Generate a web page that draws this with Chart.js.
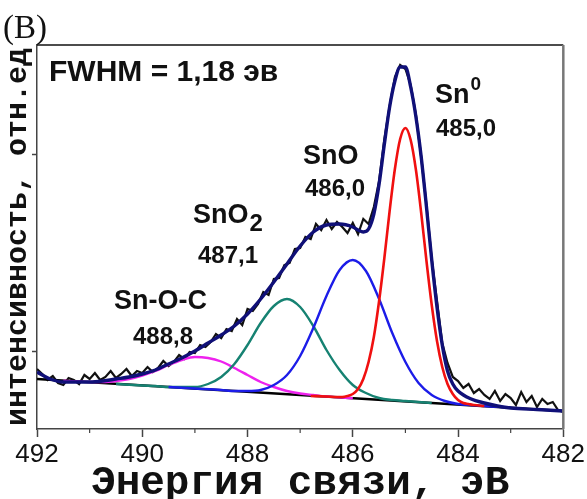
<!DOCTYPE html>
<html>
<head>
<meta charset="utf-8">
<script src="https://cdn.jsdelivr.net/npm/chart.js@4/dist/chart.umd.min.js"></script>
<style>
  html, body { margin: 0; padding: 0; background: #fff; }
  canvas { display: block; }
</style>
</head>
<body>
<canvas id="xps" width="587" height="499"></canvas>
<script>
// Sn 3d5/2 XPS spectrum (binding energy, eV / intensity, arb. units)

// x axis tick labels and y tick positions (y axis has no labels)
const xTickLabels = [492, 490, 488, 486, 484, 482];
const yTickValues = [78, 275];

// linear background
const bgE = [492, 482];
const bgI = [50, 18];

// Sn0 (485,0 eV) - red
const sn0E = [486.8, 486.5, 486.3, 486.2, 486.1, 486.0, 485.9, 485.8, 485.7, 485.6, 485.5, 485.4, 485.3, 485.2, 485.1,
  485.0, 484.9, 484.8, 484.7, 484.6, 484.5, 484.4, 484.3, 484.2, 484.1, 484.0, 483.9, 483.8, 483.7, 483.5];
const sn0I = [33, 32.5, 32, 32, 33, 35, 40, 50, 67, 92, 128, 171, 218, 260, 290,
  301, 289, 259, 216, 168, 124, 88, 62, 45, 35, 29, 26, 25, 24, 23];

// SnO (486,0 eV) - blue
const snoE = [489.5, 489.0, 488.5, 488.25, 488.0, 487.75, 487.5, 487.25, 487.0, 486.75, 486.5, 486.25, 486.0,
  485.75, 485.5, 485.25, 485.0, 484.75, 484.5, 484.25, 484.0, 483.75, 483.5, 483.0];
const snoI = [42, 40.5, 39, 38, 38, 39, 44, 54, 73, 101, 133, 159, 169,
  158, 130, 96, 67, 46, 34, 28, 25, 24, 23, 21.6];

// SnO2 (487,1 eV) - teal
const sno2E = [490.5, 490.0, 489.75, 489.5, 489.25, 489.0, 488.75, 488.5, 488.25, 488.0, 487.75, 487.5, 487.25,
  487.0, 486.75, 486.5, 486.25, 486.0, 485.75, 485.5, 485.25, 485.0, 484.75, 484.5];
const sno2I = [45, 43.5, 43, 42, 42, 42, 45, 52, 65, 84, 106, 123, 130,
  122, 103, 79, 59, 44, 36, 31, 29, 28, 27, 26];

// Sn-O-C (488,8 eV) - magenta
const snocE = [491.5, 491.0, 490.75, 490.5, 490.25, 490.0, 489.75, 489.5, 489.25, 489.0, 488.75, 488.5,
  488.25, 488.0, 487.75, 487.5, 487.25, 487.0, 486.75, 486.5, 486.25, 486.0];
const snocI = [48.4, 47, 47, 48, 50, 53.5, 58, 64, 69, 72, 71, 67.5,
  61, 54, 47, 42, 38, 35.5, 34, 32.6, 31.6, 30.8];

// fit envelope - navy
const envE = [492, 491.75, 491.5, 491.25, 491.0, 490.75, 490.5, 490.25, 490.0, 489.75, 489.5, 489.25,
  489.0, 488.75, 488.5, 488.25, 488.0, 487.75, 487.5, 487.25, 487.0, 486.75, 486.5, 486.25,
  486.0, 485.9, 485.8, 485.7, 485.6, 485.5, 485.4, 485.3, 485.2, 485.1, 485.0, 484.9, 484.8,
  484.7, 484.6, 484.5, 484.4, 484.3, 484.2, 484.1, 484.0, 483.75, 483.5, 483.25, 483.0, 482.5, 482];
const envI = [57, 50, 47, 47, 47, 48, 50, 52, 55, 59, 65, 71,
  78, 86, 94, 103, 115, 130, 147, 165, 183, 197, 204, 205,
  202, 199, 197, 200, 215, 245, 285, 322, 348, 362, 362, 342, 312,
  272, 222, 169, 122, 84, 58, 45, 38, 30, 26, 23, 21, 19.5, 18];

// measured spectrum - black, 0.1 eV step from 492 down to 482
const dataStartE = 492;
const dataStepE = 0.1;
const dataI = [
  60, 55, 49, 53, 46, 44, 51, 49, 45, 54,
  50, 56, 49, 52, 58, 51, 55, 60, 53, 58,
  56, 62, 57, 61, 68, 63, 67, 74, 70, 77,
  76, 84, 82, 87, 95, 91, 100, 98, 110, 104,
  120, 118, 125, 137, 134, 150, 151, 164, 166, 180,
  181, 192, 190, 205, 199, 209, 200, 207, 202, 196,
  206, 195, 210, 205, 222, 248, 290, 323, 352, 364,
  360, 344, 314, 272, 224, 170, 128, 86, 66, 52,
  48, 41, 45, 36, 40, 34, 30, 38, 28, 35,
  31, 24, 37, 27, 33, 22, 30, 25, 27, 19,
  17
];

// annotations
const peakNames = ['Sn-O-C', 'SnO', 'SnO', 'Sn'];
const peakEnergies = ['488,8', '487,1', '486,0', '485,0'];
const fwhmText = 'FWHM = 1,18 эв';
const panelLabel = '(В)';

function pts(es, is) {
  return es.map((e, i) => ({ x: e, y: is[i] }));
}
const dataPts = dataI.map((v, i) => ({ x: +(dataStartE - i * dataStepE).toFixed(2), y: v }));

const SANS = "'Liberation Sans', Arial, sans-serif";
const MONO = "'Liberation Mono', 'Courier New', monospace";

// frame, minor ticks and labels drawn on top
const decorPlugin = {
  id: 'decor',
  afterDraw(chart) {
    const ctx = chart.ctx;
    const a = chart.chartArea;
    const xs = chart.scales.x;
    ctx.save();
    // top and right frame
    ctx.lineWidth = 1.5;
    ctx.strokeStyle = '#111';
    ctx.beginPath();
    ctx.moveTo(a.left, a.top);
    ctx.lineTo(a.right, a.top);
    ctx.stroke();
    ctx.lineWidth = 2.5;
    ctx.strokeStyle = '#777';
    ctx.beginPath();
    ctx.moveTo(a.right, a.top);
    ctx.lineTo(a.right, a.bottom);
    ctx.stroke();
    // minor ticks on odd eV
    ctx.lineWidth = 1.2;
    ctx.strokeStyle = '#444';
    for (let e = 483; e <= 491; e += 2) {
      const px = xs.getPixelForValue(e);
      ctx.beginPath();
      ctx.moveTo(px, a.bottom);
      ctx.lineTo(px, a.bottom + 4);
      ctx.stroke();
    }

    ctx.fillStyle = '#111';
    ctx.textBaseline = 'alphabetic';
    const txt = (s, x, y, size) => {
      ctx.font = 'bold ' + size + 'px ' + SANS;
      ctx.fillText(s, x, y);
      return ctx.measureText(s).width;
    };
    txt(fwhmText, 49, 81, 30);
    // Sn0
    let w = txt(peakNames[3], 435, 103, 27);
    txt('0', 435 + w + 1, 90, 19);
    txt(peakEnergies[3], 436, 136, 24);
    // SnO
    txt(peakNames[2], 303, 164, 27);
    txt(peakEnergies[2], 305, 196, 24);
    // SnO2
    w = txt(peakNames[1], 193, 223, 27);
    txt('2', 193 + w + 1, 231, 24);
    txt(peakEnergies[1], 198, 263, 24);
    // Sn-O-C
    txt(peakNames[0], 114, 309, 27);
    txt(peakEnergies[0], 133, 344, 24);
    // panel label
    ctx.font = "33px 'Liberation Serif', 'Times New Roman', serif";
    ctx.fillText(panelLabel, 3, 38);
    ctx.restore();
  }
};

const line = (label, data, color, width, order, smooth) => ({
  label, data, borderColor: color, borderWidth: width, order,
  pointRadius: 0, fill: false,
  cubicInterpolationMode: smooth ? 'monotone' : 'default',
  tension: 0
});

new Chart(document.getElementById('xps'), {
  type: 'line',
  data: {
    datasets: [
      line('data', dataPts, '#111111', 2.2, 7, false),
      line('background', pts(bgE, bgI), '#000000', 2.6, 6, false),
      line('Sn-O-C', pts(snocE, snocI), '#ee22ee', 2.4, 5, true),
      line('SnO2', pts(sno2E, sno2I), '#168272', 2.4, 4, true),
      line('SnO', pts(snoE, snoI), '#1c1ce8', 2.4, 3, true),
      line('Sn0', pts(sn0E, sn0I), '#f01010', 2.6, 2, true),
      line('envelope', pts(envE, envI), '#101078', 3.4, 1, true)
    ]
  },
  options: {
    responsive: false,
    devicePixelRatio: 1,
    animation: false,
    layout: { padding: { top: 45, right: 22, left: 0, bottom: 0 } },
    plugins: { legend: { display: false }, tooltip: { enabled: false } },
    scales: {
      x: {
        type: 'linear',
        reverse: true,
        min: 482,
        max: 492,
        afterBuildTicks: (s) => { s.ticks = xTickLabels.map(v => ({ value: v })); },
        afterFit: (s) => { s.height = 70; },
        ticks: {
          color: '#111',
          font: { family: SANS, size: 26 },
          padding: 2,
          maxRotation: 0,
          autoSkip: false
        },
        grid: { drawOnChartArea: false, tickLength: 8, tickWidth: 1.5, tickColor: '#444' },
        border: { display: true, color: '#444', width: 1.5 },
        title: {
          display: true,
          text: 'Энергия связи, эВ',
          color: '#111',
          font: { family: MONO, size: 41, weight: 'bold', lineHeight: 1 },
          padding: { top: 0, bottom: -5 }
        }
      },
      y: {
        type: 'linear',
        min: 0,
        max: 384,
        afterBuildTicks: (s) => { s.ticks = yTickValues.map(v => ({ value: v })); },
        afterFit: (s) => { s.width = 37; },
        ticks: { display: false },
        grid: { drawOnChartArea: false, tickLength: 5, tickWidth: 1.5, tickColor: '#444' },
        border: { display: true, color: '#444', width: 1.5 },
        title: {
          display: true,
          text: 'интенсивность, отн.ед',
          color: '#111',
          font: { family: MONO, size: 30, weight: 'bold' },
          padding: { top: 0, bottom: 0 }
        }
      }
    }
  },
  plugins: [decorPlugin]
});
</script>
</body>
</html>
